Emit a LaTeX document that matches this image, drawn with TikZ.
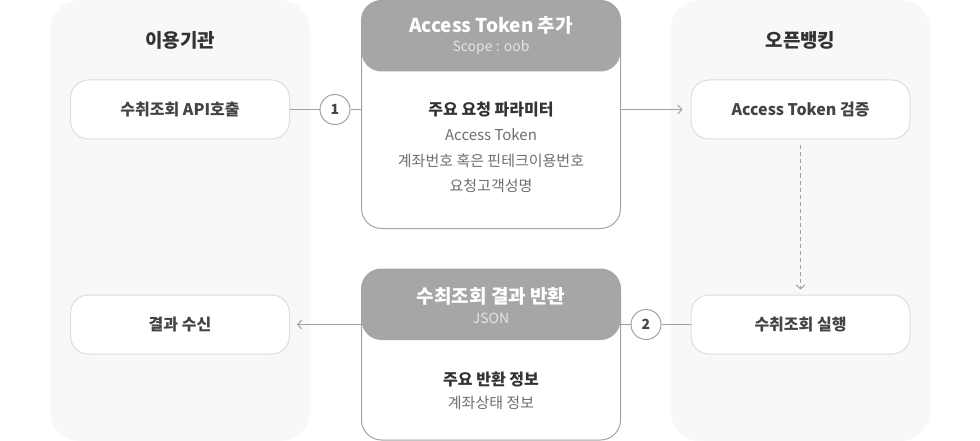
\documentclass[tikz,border=0pt]{standalone}
\usepackage{fontspec}
\setmainfont{Noto Sans CJK KR}
\usetikzlibrary{arrows.meta}
\definecolor{panelbg}{HTML}{F8F8F8}
\definecolor{headgray}{HTML}{A6A6A6}
\definecolor{boxline}{HTML}{DDDDDD}
\definecolor{midline}{HTML}{A3A3A3}
\definecolor{connline}{HTML}{A0A0A0}
\definecolor{darktext}{HTML}{333333}
\definecolor{boxtext}{HTML}{444444}
\definecolor{graytext}{HTML}{6E6E6E}
\definecolor{subtext}{HTML}{E4E4E4}
\begin{document}
\begin{tikzpicture}[x=1pt,y=-1pt,
  panel/.style={fill=panelbg, rounded corners=30pt, minimum width=260pt, minimum height=441pt, inner sep=0pt},
  paneltitle/.style={font=\fontsize{19}{23}\selectfont\bfseries, text=darktext, inner sep=0pt},
  actbox/.style={draw=boxline, line width=1pt, fill=white, rounded corners=18pt, minimum width=219pt, minimum height=59pt, inner sep=0pt, font=\fontsize{16}{19}\selectfont\bfseries, text=boxtext},
  msgbox/.style={draw=midline, line width=1pt, fill=white, rounded corners=20pt, minimum width=259pt, inner sep=0pt,
    path picture={\fill[headgray] (path picture bounding box.north west) rectangle ([yshift=-71pt]path picture bounding box.north east);}},
  headtitle/.style={font=\fontsize{19}{23}\selectfont\bfseries, text=white, inner sep=0pt},
  headsub/.style={font=\fontsize{14}{17}\selectfont, text=subtext, inner sep=0pt},
  bodytitle/.style={font=\fontsize{16}{19}\selectfont\bfseries, text=darktext, inner sep=0pt},
  bodyline/.style={font=\fontsize{15}{18}\selectfont, text=graytext, inner sep=0pt},
  stepnum/.style={circle, draw=midline, line width=1pt, fill=white, minimum size=30pt, inner sep=0pt, font=\fontsize{14}{16}\selectfont\bfseries, text=boxtext},
  conn/.style={draw=connline, line width=1pt},
  tip/.style={-{Straight Barb[length=4pt,width=9pt,line width=1pt]}},
]
\useasboundingbox (0,0) rectangle (980,441);
% panels
\node[panel] (orgpanel) at (180,220.5) {};
\node[panel] (obpanel) at (800.5,220.5) {};
\node[paneltitle] (orgtitle) at (180,40) {이용기관};
\node[paneltitle] (obtitle) at (800.5,40) {오픈뱅킹};
% action boxes
\node[actbox] (call) at (180,109.5) {수취조회 API호출};
\node[actbox] (result) at (180,324.5) {결과 수신};
\node[actbox] (verify) at (800.5,109.5) {Access Token 검증};
\node[actbox] (exec) at (800.5,324.5) {수취조회 실행};
% message boxes
\node[msgbox, minimum height=228pt] (req) at (491,114.5) {};
\node[headtitle] (reqtitle) at (491,25) {Access Token 추가};
\node[headsub] (reqsub) at (491,48) {Scope : oob};
\node[bodytitle] (reqbody) at (491,110) {주요 요청 파라미터};
\node[bodyline] (reqline1) at (491,135) {Access Token};
\node[bodyline] (reqline2) at (491,161) {계좌번호 혹은 핀테크이용번호};
\node[bodyline] (reqline3) at (491,186) {요청고객성명};
\node[msgbox, minimum height=171pt] (resp) at (491,354.5) {};
\node[headtitle] (resptitle) at (491,296) {수최조회 결과 반환};
\node[headsub] (respsub) at (491,318) {JSON};
\node[bodytitle] (respbody) at (491,379) {주요 반환 정보};
\node[bodyline] (respline1) at (491,403) {계좌상태 정보};
% step circles
\node[stepnum] (c1) at (335,109.5) {1};
\node[stepnum] (c2) at (646,324.5) {2};
% connectors
\draw[conn] (call.east) -- (c1.west);
\draw[conn] (c1.east) -- (c1.east -| req.west);
\draw[conn, tip] (req.east |- verify.west) -- ([xshift=-8pt]verify.west);
\draw[conn, tip, dash pattern=on 4pt off 3pt] ([yshift=-6pt]verify.south) -- ([yshift=5pt]exec.north);
\draw[conn] (exec.west) -- (c2.east);
\draw[conn] (c2.west) -- (c2.west -| resp.east);
\draw[conn, tip] (resp.west |- result.east) -- ([xshift=7pt]result.east);
\end{tikzpicture}
\end{document}
